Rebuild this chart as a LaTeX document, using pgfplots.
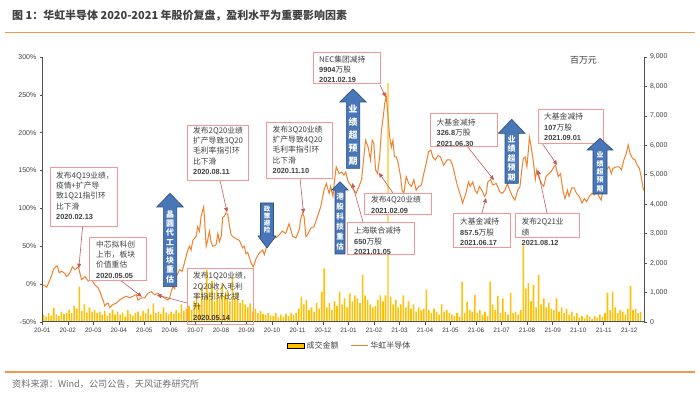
\documentclass[border=0pt]{standalone}
\usepackage{fontspec}
\usepackage{pgfplots}
\pgfplotsset{compat=1.18}
\usetikzlibrary{arrows.meta}
\setmainfont{Liberation Sans}
\newfontfamily\cjk{Noto Sans CJK SC}
\definecolor{lineor}{RGB}{239,130,45}
\definecolor{baryel}{RGB}{255,192,0}
\definecolor{barlt}{RGB}{255,215,110}
\definecolor{boxred}{RGB}{242,150,150}
\definecolor{arrred}{RGB}{196,90,90}
\definecolor{bluefill}{RGB}{72,118,182}
\definecolor{bluedark}{RGB}{44,78,128}
\definecolor{txtgray}{RGB}{64,64,64}
\definecolor{axgray}{RGB}{80,80,80}
\definecolor{srcgray}{RGB}{110,110,110}
\definecolor{hdror}{RGB}{241,152,79}

\newcommand{\bt}{\cjk\fontsize{7.8}{10.4}\selectfont}
\newcommand{\dtf}{\normalfont\bfseries\fontsize{7.4}{10.4}\selectfont}
% cx, apex, headbase, bottom, bodyhalf, headhalf, size, skip, text
\newcommand{\fatup}[9]{%
  \filldraw[fill=bluefill, draw=bluedark, line width=0.6bp]
    ({#1-#5},#4) -- ({#1-#5},#3) -- ({#1-#6},#3) -- (#1,#2) -- ({#1+#6},#3) -- ({#1+#5},#3) -- ({#1+#5},#4) -- cycle;
  \node[text=white, font=\cjk\bfseries\fontsize{#7}{#8}\selectfont, align=center, inner sep=0] at (#1,{(#3+#4)/2}) {#9};
}
% cx, top, headbase, apex, bodyhalf, headhalf, size, skip, text
\newcommand{\fatdown}[9]{%
  \filldraw[fill=bluefill, draw=bluedark, line width=0.6bp]
    ({#1-#5},#2) -- ({#1-#5},#3) -- ({#1-#6},#3) -- (#1,#4) -- ({#1+#6},#3) -- ({#1+#5},#3) -- ({#1+#5},#2) -- cycle;
  \node[text=white, font=\cjk\bfseries\fontsize{#7}{#8}\selectfont, align=center, inner sep=0] at (#1,{(#2+#3)/2}) {#9};
}

\begin{document}
\begin{tikzpicture}
\path[use as bounding box] (0bp,0bp) rectangle (700bp,398bp);
\fill[white] (0bp,0bp) rectangle (700bp,398bp);

% ---------- right axis: turnover bars ----------
\begin{axis}[
  at={(42.3bp,76bp)}, anchor=south west, scale only axis,
  width=601.7bp, height=265bp,
  xmin=0, xmax=23.58, ymin=0, ymax=9000,
  axis x line=none, axis y line*=right,
  axis line style={axgray, line width=1bp, -},
  ytick={0,1000,...,9000},
  tick align=outside, major tick length=2.5bp,
  tick style={axgray, line width=0.6bp},
  yticklabel style={font=\fontsize{7}{8}\selectfont, text=txtgray},
  /pgf/number format/assume math mode=true,
  /pgf/number format/1000 sep={,},
]
\addplot[ybar, bar shift=0pt, bar width=0.062, fill=baryel, draw=none] coordinates {
(0.05,250)(0.15,180)(0.25,300)(0.35,220)(0.45,480)(0.55,260)(0.65,200)(0.75,350)(0.85,280)(0.95,300)
(1.05,420)(1.15,300)(1.25,550)(1.35,450)(1.45,1200)(1.55,380)(1.65,600)(1.75,320)(1.85,500)(1.95,350)
(2.05,400)(2.15,300)(2.25,350)(2.35,250)(2.45,380)(2.55,200)(2.65,300)(2.75,420)(2.85,260)(2.95,350)
(3.05,250)(3.15,320)(3.25,180)(3.35,400)(3.45,280)(3.55,220)(3.65,300)(3.75,350)(3.85,200)(3.95,380)
(4.05,300)(4.15,450)(4.25,250)(4.35,630)(4.45,300)(4.55,350)(4.65,280)(4.75,500)(4.85,320)(4.95,260)
(5.05,350)(5.15,280)(5.25,400)(5.35,300)(5.45,600)(5.55,380)(5.65,450)(5.75,550)(5.85,400)(5.95,700)
(6.05,900)(6.15,600)(6.25,1200)(6.35,800)(6.45,1770)(6.55,1000)(6.65,1400)(6.75,700)(6.85,1100)(6.95,850)
(7.05,1300)(7.15,900)(7.25,1085)(7.35,700)(7.45,1500)(7.55,800)(7.65,1000)(7.75,650)(7.85,750)(7.95,600)
(8.05,500)(8.15,630)(8.25,350)(8.35,450)(8.45,300)(8.55,380)(8.65,280)(8.75,250)(8.85,300)(8.95,220)
(9.05,200)(9.15,300)(9.25,150)(9.35,250)(9.45,180)(9.55,280)(9.65,200)(9.75,320)(9.85,250)(9.95,300)
(10.05,450)(10.15,860)(10.25,600)(10.35,750)(10.45,400)(10.55,500)(10.65,350)(10.75,650)(10.85,450)(10.95,1030)
(11.05,1820)(11.15,500)(11.25,650)(11.35,400)(11.45,700)(11.55,550)(11.65,1030)(11.75,600)(11.85,800)(11.95,500)
(12.05,970)(12.15,700)(12.25,900)(12.35,800)(12.45,650)(12.55,1600)(12.65,900)(12.75,750)(12.85,600)(12.95,500)
(13.05,550)(13.15,750)(13.25,900)(13.35,700)(13.45,900)(13.65,850)(13.75,600)(13.85,750)(13.95,500)
(14.05,600)(14.15,900)(14.25,500)(14.35,700)(14.45,450)(14.55,600)(14.65,350)(14.75,500)(14.85,400)(14.95,450)
(15.05,1100)(15.15,400)(15.25,300)(15.35,450)(15.45,350)(15.55,250)(15.65,600)(15.75,350)(15.85,400)(15.95,300)
(16.05,250)(16.15,200)(16.25,300)(16.35,180)(16.45,1370)(16.55,300)(16.65,690)(16.75,400)(16.85,350)(16.95,915)
(17.05,300)(17.15,400)(17.25,250)(17.35,350)(17.45,200)(17.55,1370)(17.65,600)(17.75,400)(17.85,880)(17.95,300)
(18.05,800)(18.15,350)(18.25,250)(18.35,1000)(18.45,300)(18.55,350)(18.65,250)(18.75,400)(18.85,2600)(18.95,1140)
(19.05,1330)(19.15,700)(19.25,1250)(19.35,500)(19.45,1600)(19.55,600)(19.65,800)(19.75,500)(19.85,650)(19.95,450)
(20.05,400)(20.15,800)(20.25,350)(20.35,500)(20.45,300)(20.55,450)(20.65,250)(20.75,350)(20.85,200)(20.95,300)
(21.05,150)(21.15,200)(21.25,120)(21.35,250)(21.45,180)(21.55,100)(21.65,200)(21.75,150)(21.85,250)(21.95,180)
(22.05,300)(22.15,1000)(22.25,400)(22.35,1030)(22.45,500)(22.55,300)(22.65,400)(22.75,350)(22.85,250)(22.95,450)
(23.05,1220)(23.15,400)(23.25,450)(23.35,300)(23.45,350)
};
\addplot[ybar, bar shift=0pt, bar width=0.045, fill=barlt, draw=none] coordinates {(13.55,8100)};
\end{axis}

% ---------- left axis: share price line ----------
\begin{axis}[
  at={(42.3bp,76bp)}, anchor=south west, scale only axis,
  width=601.7bp, height=265bp,
  xmin=0, xmax=23.58, ymin=-50, ymax=300,
  axis x line*=bottom, axis y line*=left,
  axis line style={axgray, line width=1bp, -},
  xtick={0,1,...,23},
  xticklabels={20-01,20-02,20-03,20-04,20-05,20-06,20-07,20-08,20-09,20-10,20-11,20-12,21-01,21-02,21-03,21-04,21-05,21-06,21-07,21-08,21-09,21-10,21-11,21-12},
  ytick={-50,0,...,300},
  yticklabel={\pgfmathprintnumber{\tick}\%},
  tick align=outside, major tick length=2.5bp,
  tick style={axgray, line width=0.6bp},
  xticklabel style={font=\fontsize{6.4}{7}\selectfont, text=txtgray},
  yticklabel style={font=\fontsize{7}{8}\selectfont, text=txtgray},
  /pgf/number format/assume math mode=true,
  legend columns=2,
  legend style={at={(0.511,-0.09)}, anchor=center, draw=none, fill=none,
    font=\cjk\fontsize{8}{9}\selectfont, text=txtgray,
    /tikz/every even column/.append style={column sep=10bp}},
]
\addlegendimage{area legend, fill=baryel, draw=none}
\addlegendentry{成交金额}
\addplot[lineor, line width=1bp] coordinates {
(0.00,-1)(0.10,-2)(0.17,-4)(0.24,1)(0.30,6)(0.37,12)(0.43,19)(0.52,23)(0.59,24)(0.66,15)(0.76,17)(0.89,14)(0.95,10)
(1.02,12)(1.08,15)(1.18,23)(1.28,19)(1.37,22)(1.43,21)(1.47,15)(1.54,6)(1.61,8)(1.67,10)(1.80,4)(1.93,6)
(2.06,-1)(2.19,-5)(2.26,-10)(2.32,-16)(2.39,-22)(2.45,-29)(2.52,-26)(2.58,-25)(2.64,-31)(2.70,-29)(2.77,-27)(2.90,-25)
(3.03,-21)(3.16,-18)(3.29,-16)(3.42,-18)(3.55,-16)(3.68,-14)(3.75,-21)(3.88,-18)(4.01,-18)(4.14,-12)(4.27,-10)(4.40,-14)
(4.53,-12)(4.66,-16)(4.79,-18)(4.92,-21)(4.99,-18)(5.05,-10)(5.12,-3)(5.19,-6)(5.25,10)(5.38,19)(5.48,17)(5.57,28)
(5.70,45)(5.77,50)(5.83,45)(5.90,58)(6.03,63)(6.09,76)(6.16,70)(6.22,89)(6.29,98)(6.32,102)(6.35,91)(6.42,50)(6.48,58)
(6.55,70)(6.61,56)(6.68,50)(6.81,52)(6.88,67)(6.94,56)(7.01,63)(7.07,88)(7.14,90)(7.20,94)(7.27,92)(7.33,78)(7.40,65)
(7.46,63)(7.59,60)(7.72,58)(7.85,48)(7.92,50)(7.98,40)(8.05,42)(8.18,28)(8.27,23)(8.38,34)(8.50,41)(8.64,45)(8.70,39)
(8.79,50)(8.89,56)(9.02,63)(9.15,61)(9.28,65)(9.41,70)(9.54,67)(9.67,80)(9.81,63)(9.94,61)(10.07,72)(10.13,87)(10.20,94)
(10.26,89)(10.33,63)(10.39,65)(10.52,74)(10.65,76)(10.78,89)(10.91,102)(11.04,124)(11.13,133)(11.24,120)(11.30,129)
(11.39,116)(11.47,142)(11.52,155)(11.63,146)(11.73,148)(11.82,144)(11.89,148)(11.99,135)(12.08,131)(12.21,124)(12.30,120)
(12.41,129)(12.51,138)(12.60,168)(12.67,190)(12.77,181)(12.86,164)(12.93,190)(12.99,186)(13.06,151)(13.14,146)(13.22,168)
(13.29,203)(13.36,221)(13.42,239)(13.48,248)(13.55,221)(13.61,195)(13.68,181)(13.74,190)(13.80,168)(13.88,168)(13.95,159)
(14.04,142)(14.10,124)(14.17,120)(14.26,142)(14.36,133)(14.47,129)(14.56,138)(14.65,124)(14.75,129)(14.86,131)(14.95,146)
(15.04,159)(15.14,175)(15.23,177)(15.30,168)(15.40,164)(15.51,170)(15.60,168)(15.73,157)(15.86,164)(15.99,164)(16.08,157)
(16.18,142)(16.27,130)(16.38,118)(16.47,107)(16.60,120)(16.70,135)(16.77,129)(16.87,135)(16.96,124)(17.04,120)(17.13,129)
(17.23,124)(17.33,116)(17.40,120)(17.46,135)(17.57,138)(17.66,131)(17.79,133)(17.93,122)(18.02,120)(18.13,124)(18.23,133)
(18.32,124)(18.42,116)(18.52,111)(18.63,124)(18.72,129)(18.79,151)(18.85,166)(18.92,168)(18.99,155)(19.05,177)(19.09,194)
(19.16,181)(19.25,160)(19.32,138)(19.38,151)(19.45,142)(19.56,133)(19.65,129)(19.74,142)(19.85,146)(19.95,149)(20.05,155)
(20.11,157)(20.22,142)(20.31,146)(20.40,124)(20.48,113)(20.58,124)(20.64,116)(20.75,127)(20.84,127)(20.93,120)(21.04,116)
(21.15,107)(21.24,113)(21.33,109)(21.44,116)(21.54,120)(21.64,118)(21.73,124)(21.81,116)(21.90,111)(21.97,124)(22.03,142)
(22.10,151)(22.21,155)(22.30,146)(22.36,153)(22.50,155)(22.60,155)(22.70,151)(22.79,164)(22.89,173)(22.96,184)(23.03,173)
(23.13,166)(23.23,164)(23.32,157)(23.40,153)(23.49,138)(23.56,124)
};
\addlegendentry{华虹半导体}
\coordinate (a1) at (axis cs:1.43,21);
\coordinate (a2) at (axis cs:3.9,-16.6);
\coordinate (a3) at (axis cs:4.49,-14.3);
\coordinate (a4) at (axis cs:7.24,95);
\coordinate (a5) at (axis cs:10.24,93.6);
\coordinate (a6) at (axis cs:13.46,247);
\coordinate (a7) at (axis cs:13.19,147);
\coordinate (a8) at (axis cs:12.14,133.6);
\coordinate (a9) at (axis cs:17.7,137.5);
\coordinate (a10) at (axis cs:17.39,113.8);
\coordinate (a11) at (axis cs:19.42,150.8);
\coordinate (a12) at (axis cs:20.17,157.4);
\end{axis}

% ---------- annotations (pixel coordinates, y downward) ----------
\begin{scope}[shift={(0bp,398bp)}, x=1bp, y=-1bp]
\tikzset{annarr/.style={arrred, line width=0.6bp, -{Triangle[length=4.5bp,width=4bp]}},
         bx/.style={draw=boxred, line width=0.8bp, fill=white},
         bxt/.style={anchor=north west, inner sep=0, align=left, text=txtgray, font=\bt}}
% header and footer
\node[anchor=west, inner sep=0, text=txtgray, font=\cjk\bfseries\fontsize{11}{12}\selectfont] at (12,15.5) {图 1：华虹半导体 2020-2021 年股价复盘，盈利水平为重要影响因素};
\draw[hdror, line width=1.5bp] (5,32.5) -- (695,32.5);
\draw[hdror, line width=1.5bp] (5,372) -- (695,372);
\node[anchor=west, inner sep=0, text=srcgray, font=\cjk\fontsize{9.2}{10}\selectfont] at (12,384) {资料来源：Wind，公司公告，天风证券研究所};
\node[inner sep=0, text=txtgray, font=\cjk\fontsize{9}{10}\selectfont] at (583.5,60) {百万元};

% annotation arrows
\draw[annarr] (82.7,226) -- (a1);
\draw[annarr] (120,280) -- (a2);
\draw[annarr] (187,303) -- (a3);
\draw[annarr] (220,180) -- (a4);
\draw[annarr] (300,178) -- (a5);
\draw[annarr] (380,85) -- (a6);
\draw[annarr] (393,193) -- (a7);
\draw[annarr] (363,222) -- (a8);
\draw[annarr] (467,146) -- (a9);
\draw[annarr] (482,213) -- (a10);
\draw[annarr] (547,213) -- (a11);
\draw[annarr] (542,143) -- (a12);

% boxes
\draw[bx] (50,167) rectangle (117,226);
\node[bxt] at (56,171.5) {发布4Q19业绩，\\疫情+扩产导\\致1Q21指引环\\比下滑\\{\dtf 2020.02.13}};
\draw[bx] (89,237) rectangle (146,280);
\node[bxt] at (96,240.5) {中芯拟科创\\上市，板块\\价值重估\\{\dtf 2020.05.05}};
\draw[draw=boxred, line width=0.8bp] (187,268) rectangle (253,324);
\node[bxt] at (193,272) {发布1Q20业绩，\\2Q20收入毛利\\率指引环比提\\升\\{\dtf 2020.05.14}};
\draw[bx] (187,125) rectangle (248,180);
\node[bxt] at (193,126.5) {发布2Q20业绩\\扩产导致3Q20\\毛利率指引环\\比下滑\\{\dtf 2020.08.11}};
\draw[bx] (266,122) rectangle (332,178);
\node[bxt] at (272.5,125.5) {发布3Q20业绩\\扩产导致4Q20\\毛利率指引环\\比下滑\\{\dtf 2020.11.10}};
\draw[bx] (313,52) rectangle (380,83);
\node[bxt] at (319,55.5) {NEC集团减持\\{\dtf 9904}万股\\{\dtf 2021.02.19}};
\draw[bx] (364,193) rectangle (431,214);
\node[bxt] at (371,196) {发布4Q20业绩\\{\dtf 2021.02.09}};
\draw[bx] (347,222) rectangle (414,254);
\node[bxt] at (354,227) {上海联合减持\\{\dtf 650}万股\\{\dtf 2021.01.05}};
\draw[bx] (430,113) rectangle (497,146);
\node[bxt] at (436.5,118.5) {大基金减持\\{\dtf 326.8}万股\\{\dtf 2021.06.30}};
\draw[bx] (453,213) rectangle (510,247);
\node[bxt] at (460,218) {大基金减持\\{\dtf 857.5}万股\\{\dtf 2021.06.17}};
\draw[bx] (515,213) rectangle (579,237);
\node[bxt] at (521.5,218) {发布2Q21业\\绩\\{\dtf 2021.08.12}};
\draw[bx] (538,109) rectangle (603,143);
\node[bxt] at (544,113) {大基金减持\\{\dtf 107}万股\\{\dtf 2021.09.01}};

% big blue arrows
\fatup{170}{193.3}{207}{286.7}{6.7}{13.3}{8}{9.3}{晶\\圆\\代\\工\\板\\块\\重\\估}
\fatdown{267}{203}{236}{248}{6.5}{9}{6.5}{7}{政\\策\\避\\险}
\fatup{353}{89}{102}{168.3}{6.7}{13.3}{9}{13}{业\\绩\\超\\预\\期}
\fatup{340}{181.7}{190}{254}{5}{8.3}{7.5}{10}{港\\股\\科\\技\\重\\估}
\fatup{511.7}{119.3}{133.3}{183.3}{6.7}{13.3}{8}{9.6}{业\\绩\\超\\预\\期}
\fatup{600}{138.3}{150}{194}{7}{13}{7}{8.4}{业\\绩\\超\\预\\期}
\end{scope}
\end{tikzpicture}
\end{document}
